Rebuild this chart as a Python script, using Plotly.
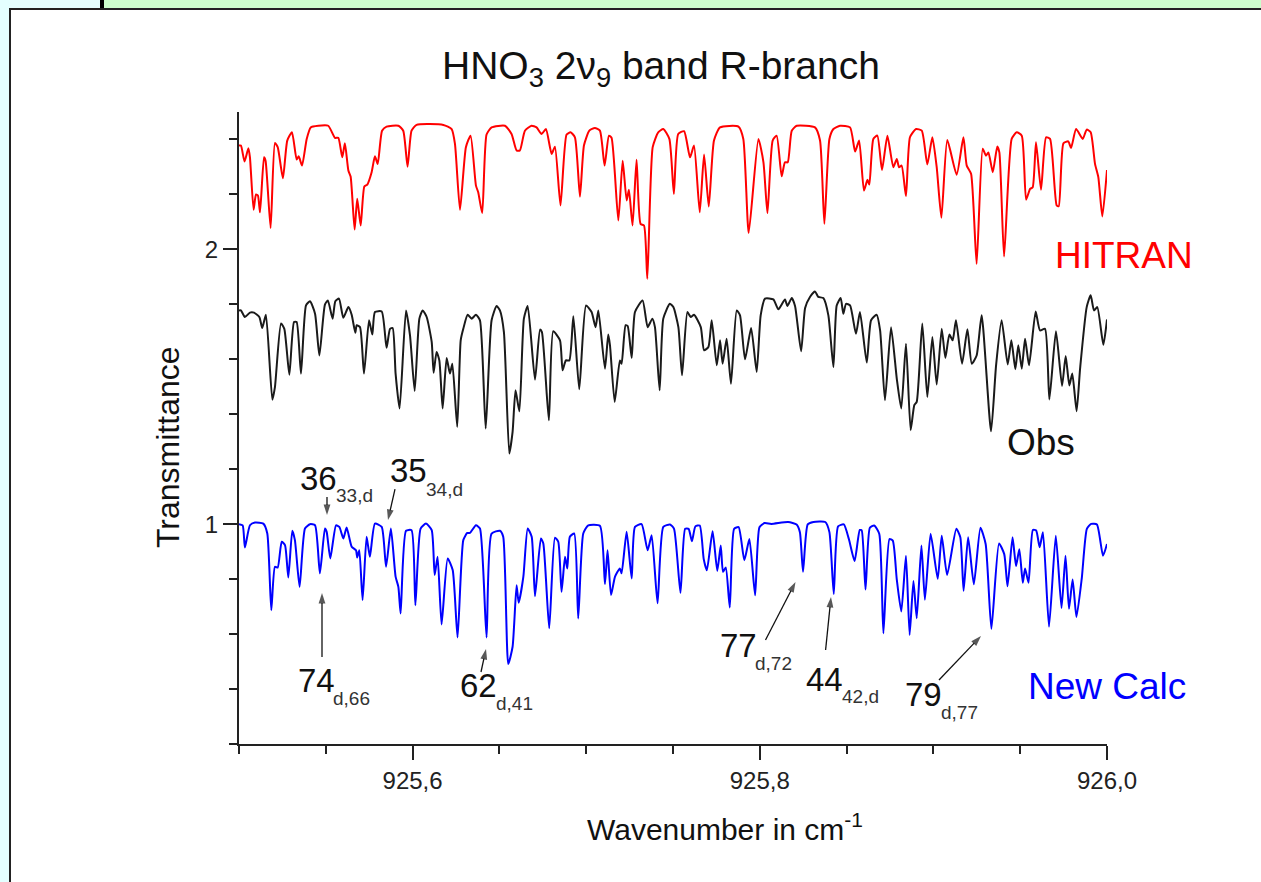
import plotly.graph_objects as go

hitran_x = [925.5000,925.5011,925.5032,925.5054,925.5063,925.5084,925.5098,925.5109,925.5121,925.5144,925.5153,925.5182,925.5207,925.5223,925.5253,925.5278,925.5305,925.5332,925.5344,925.5363,925.5390,925.5413,925.5457,925.5514,925.5553,925.5572,925.5595,925.5610,925.5630,925.5643,925.5666,925.5681,925.5701,925.5722,925.5739,925.5764,925.5783,925.5799,925.5824,925.5850,925.5918,925.5946,925.5971,925.5994,925.6023,925.6177,925.6225,925.6244,925.6273,925.6307,925.6334,925.6365,925.6378,925.6401,925.6426,925.6455,925.6532,925.6570,925.6599,925.6618,925.6647,925.6685,925.6714,925.6743,925.6768,925.6801,925.6820,925.6852,925.6887,925.6910,925.6935,925.6964,925.6987,925.7018,925.7050,925.7079,925.7106,925.7131,925.7146,925.7185,925.7210,925.7233,925.7246,925.7267,925.7290,925.7313,925.7333,925.7352,925.7383,925.7415,925.7444,925.7479,925.7505,925.7530,
925.7564,925.7598,925.7621,925.7654,925.7679,925.7706,925.7736,925.7771,925.7877,925.7905,925.7936,925.7992,925.8021,925.8044,925.8074,925.8097,925.8126,925.8145,925.8161,925.8184,925.8213,925.8318,925.8347,925.8372,925.8401,925.8424,925.8462,925.8520,925.8549,925.8572,925.8600,925.8620,925.8631,925.8654,925.8677,925.8704,925.8735,925.8769,925.8789,925.8802,925.8817,925.8842,925.8865,925.8900,925.8933,925.8965,925.8994,925.9019,925.9046,925.9080,925.9134,925.9173,925.9192,925.9217,925.9249,925.9284,925.9303,925.9317,925.9342,925.9368,925.9380,925.9407,925.9451,925.9480,925.9509,925.9534,925.9557,925.9572,925.9591,925.9620,925.9649,925.9672,925.9710,925.9722,925.9749,925.9777,925.9793,925.9822,925.9860,925.9883,925.9906,925.9931,925.9950,925.9973,926.0000]
hitran_y = [2.378,2.378,2.320,2.368,2.335,2.144,2.200,2.196,2.135,2.335,2.323,2.078,2.387,2.372,2.259,2.396,2.426,2.327,2.339,2.305,2.402,2.444,2.450,2.450,2.406,2.406,2.335,2.386,2.287,2.265,2.072,2.184,2.087,2.229,2.236,2.281,2.339,2.311,2.432,2.447,2.450,2.432,2.301,2.432,2.453,2.453,2.438,2.384,2.144,2.372,2.414,2.232,2.208,2.132,2.418,2.444,2.450,2.420,2.360,2.360,2.432,2.450,2.444,2.420,2.438,2.347,2.374,2.160,2.418,2.426,2.408,2.192,2.378,2.432,2.442,2.432,2.305,2.414,2.406,2.105,2.323,2.178,2.217,2.087,2.326,2.093,2.087,1.893,2.372,2.426,2.438,2.402,2.202,2.420,
2.430,2.335,2.378,2.135,2.345,2.156,2.396,2.444,2.447,2.402,2.060,2.402,2.317,2.132,2.396,2.414,2.266,2.317,2.317,2.432,2.450,2.444,2.396,2.093,2.402,2.438,2.450,2.444,2.356,2.396,2.214,2.253,2.236,2.402,2.414,2.289,2.414,2.299,2.329,2.299,2.305,2.194,2.408,2.438,2.432,2.309,2.408,2.299,2.115,2.398,2.272,2.408,2.305,2.275,1.947,2.366,2.341,2.353,2.281,2.374,2.353,1.974,2.402,2.426,2.414,2.181,2.220,2.226,2.390,2.217,2.408,2.402,2.160,2.157,2.386,2.393,2.369,2.438,2.402,2.436,2.426,2.311,2.263,2.120,2.289]

obs_x = [925.5000,925.5011,925.5034,925.5063,925.5086,925.5117,925.5134,925.5155,925.5192,925.5207,925.5242,925.5261,925.5290,925.5317,925.5332,925.5357,925.5386,925.5409,925.5438,925.5463,925.5495,925.5512,925.5539,925.5555,925.5576,925.5601,925.5630,925.5649,925.5670,925.5678,925.5697,925.5720,925.5749,925.5768,925.5783,925.5822,925.5850,925.5870,925.5885,925.5902,925.5925,925.5962,925.5985,925.6012,925.6039,925.6058,925.6081,925.6110,925.6121,925.6138,925.6154,925.6173,925.6196,925.6215,925.6229,925.6257,925.6277,925.6292,925.6317,925.6340,925.6365,925.6388,925.6421,925.6455,925.6484,925.6503,925.6526,925.6557,925.6576,925.6593,925.6615,925.6641,925.6663,925.6705,925.6734,925.6745,925.6785,925.6810,925.6849,925.6864,925.6883,925.6903,925.6926,925.6960,925.6999,925.7031,925.7054,925.7070,925.7108,925.7127,925.7137,925.7164,925.7194,925.7204,925.7227,925.7239,925.7262,925.7281,925.7325,925.7354,925.7381,925.7396,925.7423,925.7444,925.7482,
925.7502,925.7531,925.7552,925.7583,925.7602,925.7621,925.7660,925.7679,925.7704,925.7723,925.7752,925.7771,925.7786,925.7809,925.7834,925.7867,925.7886,925.7915,925.7950,925.7982,925.8005,925.8030,925.8078,925.8107,925.8145,925.8159,925.8184,925.8203,925.8238,925.8261,925.8289,925.8318,925.8337,925.8366,925.8395,925.8424,925.8443,925.8466,925.8481,925.8497,925.8520,925.8554,925.8577,925.8616,925.8641,925.8673,925.8693,925.8721,925.8756,925.8789,925.8815,925.8842,925.8869,925.8890,925.8904,925.8936,925.8965,925.8994,925.9019,925.9048,925.9069,925.9092,925.9111,925.9130,925.9165,925.9196,925.9221,925.9249,925.9278,925.9332,925.9361,925.9393,925.9428,925.9449,925.9472,925.9489,925.9509,925.9528,925.9551,925.9589,925.9614,925.9643,925.9668,925.9706,925.9741,925.9762,925.9783,925.9800,925.9825,925.9845,925.9883,925.9906,925.9925,925.9944,925.9979,926.0000]
obs_y = [1.778,1.778,1.754,1.770,1.770,1.754,1.714,1.762,1.453,1.499,1.730,1.711,1.544,1.736,1.736,1.548,1.796,1.811,1.766,1.614,1.799,1.814,1.748,1.811,1.821,1.751,1.790,1.762,1.697,1.724,1.717,1.548,1.742,1.690,1.772,1.774,1.642,1.711,1.714,1.548,1.421,1.778,1.687,1.485,1.748,1.778,1.754,1.663,1.551,1.627,1.596,1.421,1.605,1.548,1.584,1.354,1.669,1.711,1.762,1.748,1.762,1.742,1.348,1.742,1.794,1.778,1.699,1.257,1.336,1.487,1.411,1.748,1.794,1.526,1.708,1.699,1.378,1.702,1.669,1.560,1.596,1.596,1.757,1.491,1.796,1.772,1.717,1.778,1.566,1.690,1.651,1.445,1.596,1.584,1.724,1.721,1.605,1.772,1.814,1.717,1.748,1.717,1.487,1.748,1.802,
1.790,1.717,1.542,1.772,1.754,1.762,1.717,1.633,1.645,1.742,1.578,1.669,1.584,1.675,1.511,1.778,1.760,1.600,1.714,1.554,1.760,1.821,1.818,1.782,1.818,1.794,1.823,1.794,1.629,1.787,1.827,1.847,1.827,1.823,1.760,1.572,1.796,1.823,1.766,1.802,1.796,1.693,1.772,1.588,1.742,1.762,1.705,1.451,1.717,1.530,1.421,1.657,1.342,1.433,1.445,1.730,1.463,1.681,1.508,1.711,1.605,1.690,1.669,1.742,1.584,1.709,1.584,1.614,1.760,1.338,1.578,1.742,1.581,1.669,1.564,1.651,1.566,1.675,1.578,1.774,1.705,1.711,1.454,1.702,1.503,1.612,1.505,1.548,1.411,1.566,1.790,1.833,1.778,1.790,1.653,1.745]

calc_x = [925.5000,925.5021,925.5034,925.5063,925.5092,925.5140,925.5163,925.5186,925.5207,925.5223,925.5246,925.5265,925.5284,925.5307,925.5322,925.5349,925.5380,925.5409,925.5438,925.5466,925.5495,925.5505,925.5526,925.5559,925.5578,925.5601,925.5620,925.5649,925.5674,925.5681,925.5693,925.5712,925.5735,925.5754,925.5783,925.5822,925.5847,925.5875,925.5902,925.5918,925.5931,925.5962,925.5994,925.6016,925.6046,925.6077,925.6110,925.6127,925.6144,925.6167,925.6202,925.6231,925.6259,925.6292,925.6315,925.6330,925.6365,925.6388,925.6426,925.6455,925.6503,925.6522,925.6551,925.6576,925.6599,925.6611,925.6638,925.6663,925.6686,925.6705,925.6739,925.6753,925.6787,925.6820,925.6839,925.6858,925.6878,925.6891,925.6906,925.6931,925.6954,925.6983,925.7012,925.7079,925.7108,925.7123,925.7143,925.7166,925.7194,925.7204,925.7233,925.7262,925.7281,925.7319,925.7354,925.7377,925.7411,925.7444,
925.7483,925.7506,925.7543,925.7570,925.7590,925.7609,925.7629,925.7654,925.7677,925.7695,925.7728,925.7755,925.7775,925.7788,925.7804,925.7827,925.7852,925.7878,925.7911,925.7940,925.7973,925.7998,925.8027,925.8066,925.8163,925.8212,925.8231,925.8249,925.8276,925.8309,925.8377,925.8401,925.8426,925.8451,925.8484,925.8513,925.8546,925.8576,925.8587,925.8609,925.8634,925.8659,925.8688,925.8712,925.8747,925.8766,925.8789,925.8815,925.8842,925.8863,925.8885,925.8904,925.8931,925.8951,925.8984,925.9025,925.9048,925.9079,925.9132,925.9155,925.9174,925.9200,925.9233,925.9271,925.9301,925.9334,925.9378,925.9408,925.9427,925.9456,925.9476,925.9495,925.9515,925.9528,925.9548,925.9573,925.9592,925.9612,925.9631,925.9666,925.9705,925.9738,925.9761,925.9781,925.9802,925.9824,925.9855,925.9884,925.9909,925.9942,925.9977,926.0000]
calc_y = [1.000,0.996,0.915,0.996,1.006,1.002,0.966,0.687,0.845,0.842,0.936,0.924,0.806,0.976,0.942,0.772,0.984,1.000,0.996,0.821,0.984,0.972,0.875,0.996,0.990,0.948,0.988,0.918,0.905,0.879,0.905,0.724,0.954,0.881,1.002,0.990,0.845,0.984,0.809,0.772,0.675,0.976,0.978,0.705,0.984,1.002,0.978,0.815,0.881,0.635,0.875,0.833,0.588,0.942,0.968,0.968,0.996,0.984,0.588,0.966,0.976,0.954,0.491,0.554,0.778,0.714,0.809,0.984,0.954,0.738,0.948,0.930,0.621,0.951,0.936,0.754,0.881,0.839,0.954,0.966,0.657,0.966,0.996,0.994,0.782,0.905,0.742,0.809,0.839,0.821,0.972,0.802,0.990,1.000,0.905,0.960,0.712,0.990,
0.999,0.983,0.750,0.983,0.983,0.938,0.992,0.995,0.873,0.832,0.974,0.830,0.922,0.827,0.842,0.697,0.983,0.989,0.869,0.946,0.741,0.989,1.004,1.001,1.008,0.999,0.971,0.827,0.999,1.008,1.008,0.971,0.746,0.992,0.999,0.946,0.866,0.979,0.977,0.762,0.987,0.995,0.965,0.603,0.946,0.940,0.799,0.682,0.885,0.597,0.793,0.658,0.922,0.725,0.965,0.801,0.958,0.815,0.983,0.952,0.758,0.952,0.781,0.987,0.928,0.619,0.930,0.891,0.774,0.952,0.848,0.909,0.787,0.839,0.787,0.979,0.977,0.916,0.971,0.627,0.958,0.695,0.885,0.692,0.799,0.662,0.805,0.983,1.001,0.999,0.885,0.928]

assert len(hitran_x) == len(hitran_y), (len(hitran_x), len(hitran_y))
assert len(obs_x) == len(obs_y), (len(obs_x), len(obs_y))
assert len(calc_x) == len(calc_y), (len(calc_x), len(calc_y))

x_tick_vals = [925.6, 925.8, 926.0]
x_tick_text = ["925,6", "925,8", "926,0"]
y_tick_vals = [1, 2]
y_tick_text = ["1", "2"]

FONT = "Liberation Sans"
L, R, T, B = 239, 1107, 112, 744
W, H = 1261, 882
def fx(p): return (p - L) / (R - L)
def fy(p): return (B - p) / (B - T)
def dx(p): return 925.5 + (p - L) / 1736
def dy(p): return 0.2 + (B - p) / 274.8

labels = [
    ("36", "33,d", 300, 490, 335, 502, (327, 515), (327, 497)),
    ("35", "34,d", 390, 483, 425, 496, (388, 520), (395, 489)),
    ("74", "d,66", 298, 692, 332, 705, (322, 593), (322, 657)),
    ("62", "d,41", 460, 697, 495, 710, (486, 649), (481, 672)),
    ("77", "d,72", 720, 657, 754, 670, (795.5, 582), (765.5, 640)),
    ("44", "42,d", 806, 691, 841, 703.5, (831, 597), (825.6, 650)),
    ("79", "d,77", 905, 706.5, 940, 719, (981, 636), (939, 680)),
]

fig = go.Figure()
for xs, ys, c in [(hitran_x, hitran_y, "#FF0000"), (obs_x, obs_y, "#1A1A1A"), (calc_x, calc_y, "#0000FF")]:
    fig.add_trace(go.Scatter(x=xs, y=ys, mode="lines", line=dict(color=c, width=2, shape="spline", smoothing=0.55),
                             showlegend=False, hoverinfo="skip"))

anns = []
def text(t, px_, py_, size, color="#111111", xa="left", **kw):
    anns.append(dict(text=t, xref="paper", yref="paper", x=fx(px_), y=fy(py_), xanchor=xa, yanchor="middle",
                     showarrow=False, font=dict(family=FONT, size=size, color=color), **kw))

for main, sub, mx, mb, sx, sb, tip, tail in labels:
    text(main, mx - 2, mb - 12, 33)
    text(sub, sx - 1, sb - 7, 19, color="#333333")
    fig.add_trace(go.Scatter(x=[dx(tail[0]), dx(tip[0])], y=[dy(tail[1]), dy(tip[1])], mode="lines+markers",
                             line=dict(color="#111111", width=1.3),
                             marker=dict(symbol=["line-ew", "arrow"], size=[1, 11], angleref="previous", color="#111111",
                                         line=dict(width=0)),
                             showlegend=False, hoverinfo="skip"))

text("HITRAN", 1124, 255, 37, color="#FF0000", xa="center")
text("Obs", 1041, 442, 37, xa="center")
text("New Calc", 1107, 686, 37, color="#0000FF", xa="center")
text("HNO<sub>3</sub> 2ν<sub>9</sub> band R-branch", 661, 68, 39, xa="center")
text("Wavenumber in cm<sup>-1</sup>", 725, 827, 30, xa="center")
anns.append(dict(text="Transmittance", xref="paper", yref="paper", x=fx(168), y=fy(447), textangle=-90, showarrow=False,
                 xanchor="center", yanchor="middle", font=dict(family=FONT, size=32, color="#111111")))

def rect(x0, y0, x1, y1, fill, line=None, lw=0):
    return dict(type="rect", xref="paper", yref="paper", x0=fx(x0), x1=fx(x1), y0=fy(y1), y1=fy(y0), fillcolor=fill,
                line=dict(color=line or fill, width=lw), layer="below")

shapes = [
    rect(0, 0, 1261, 882, "#E4FFFF"),
    rect(104, 0, 1261, 8, "#CCFFCC"),
    rect(100, 0, 104, 9, "#000000"),
    rect(10, 9, 1275, 895, "#FFFFFF", line="#222222", lw=2),
]

axis_common = dict(showgrid=False, zeroline=False, showline=True, linecolor="#222222", linewidth=2,
                   ticks="outside", tickcolor="#222222", tickwidth=2, ticklen=14,
                   tickfont=dict(family=FONT, size=24, color="#222222"))

fig.update_layout(
    width=W, height=H, margin=dict(l=L, r=W - R, t=T, b=H - B, pad=0),
    paper_bgcolor="#FFFFFF", plot_bgcolor="rgba(0,0,0,0)",
    xaxis=dict(range=[925.5, 926.0], tickmode="array", tickvals=x_tick_vals, ticktext=x_tick_text,
               minor=dict(tickmode="array", tickvals=[925.5, 925.55, 925.65, 925.7, 925.75, 925.85, 925.9, 925.95],
                          ticks="outside", ticklen=8, tickwidth=2, tickcolor="#222222", showgrid=False), **axis_common),
    yaxis=dict(range=[0.2, 2.5], tickmode="array", tickvals=y_tick_vals, ticktext=y_tick_text,
               minor=dict(tickmode="array", tickvals=[0.2, 0.4, 0.6, 0.8, 1.2, 1.4, 1.6, 1.8, 2.2, 2.4],
                          ticks="outside", ticklen=8, tickwidth=2, tickcolor="#222222", showgrid=False), **axis_common),
    annotations=anns, shapes=shapes,
)
fig.write_html("out.html", config=dict(displayModeBar=False),
               post_script="document.body.style.margin='0';document.body.style.overflow='hidden';")
